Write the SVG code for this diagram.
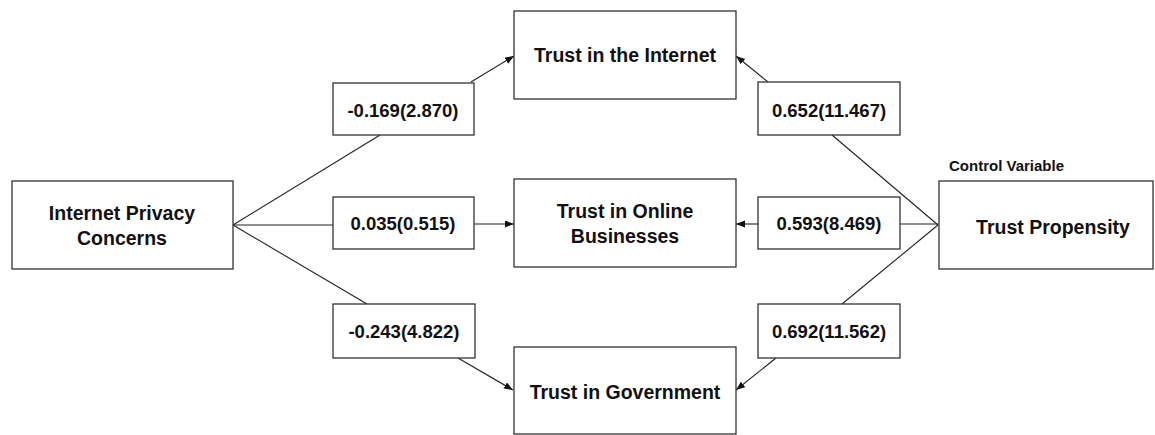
<svg xmlns="http://www.w3.org/2000/svg" width="1155" height="435" viewBox="0 0 1155 435">
<style>
.box{fill:#fff;stroke:#333;stroke-width:1.3}
.node{font-family:"Liberation Sans",Arial,sans-serif;font-weight:bold;font-size:19.5px;fill:#111;text-anchor:middle}
.lbl{font-family:"Liberation Sans",Arial,sans-serif;font-weight:bold;font-size:18.5px;fill:#111;text-anchor:middle}
.cv{font-family:"Liberation Sans",Arial,sans-serif;font-weight:bold;font-size:15px;fill:#111}
.ln{stroke:#222;stroke-width:1.1;fill:none}
</style>
<defs>
<marker id="ah" markerUnits="userSpaceOnUse" markerWidth="10" markerHeight="8" refX="9" refY="3.5" orient="auto">
<path d="M0,0 L9,3.5 L0,7 z" fill="#111"/>
</marker>
</defs>
<rect width="1155" height="435" fill="#fff"/>
<g id="connectors">
<line class="ln" x1="233" y1="225" x2="380" y2="135"/>
<line class="ln" x1="471" y1="82" x2="514" y2="56" marker-end="url(#ah)"/>
<line class="ln" x1="233" y1="225" x2="333" y2="225"/>
<line class="ln" x1="474" y1="224" x2="514" y2="224" marker-end="url(#ah)"/>
<line class="ln" x1="233" y1="225" x2="367" y2="304"/>
<line class="ln" x1="458" y1="358" x2="513" y2="390" marker-end="url(#ah)"/>
<line class="ln" x1="938" y1="225" x2="832" y2="135"/>
<line class="ln" x1="768" y1="82" x2="736" y2="56" marker-end="url(#ah)"/>
<line class="ln" x1="938" y1="224" x2="900" y2="224"/>
<line class="ln" x1="758" y1="224" x2="736" y2="224" marker-end="url(#ah)"/>
<line class="ln" x1="938" y1="225" x2="842" y2="304"/>
<line class="ln" x1="776" y1="358" x2="736" y2="390" marker-end="url(#ah)"/>
</g>
<g id="ipc">
<rect class="box" x="12" y="181" width="221" height="88"/>
<text class="node" x="122" y="220">Internet Privacy</text>
<text class="node" x="122" y="245">Concerns</text>
</g>
<g id="tint">
<rect class="box" x="514" y="11" width="222" height="88"/>
<text class="node" x="625" y="62">Trust in the Internet</text>
</g>
<g id="tonl">
<rect class="box" x="514" y="179" width="222" height="88"/>
<text class="node" x="625" y="218">Trust in Online</text>
<text class="node" x="625" y="243">Businesses</text>
</g>
<g id="tgov">
<rect class="box" x="514" y="347" width="222" height="87"/>
<text class="node" x="625" y="399">Trust in Government</text>
</g>
<g id="tprop">
<rect class="box" x="939" y="181" width="214" height="88"/>
<text class="node" x="1053" y="234">Trust Propensity</text>
<text class="cv" x="949" y="171">Control Variable</text>
</g>
<g id="l1">
<rect class="box" x="333" y="83" width="141" height="52"/>
<text class="lbl" x="403" y="117">-0.169(2.870)</text>
</g>
<g id="l2">
<rect class="box" x="333" y="197" width="141" height="52"/>
<text class="lbl" x="403" y="230">0.035(0.515)</text>
</g>
<g id="l3">
<rect class="box" x="333" y="304" width="142" height="54"/>
<text class="lbl" x="404" y="338">-0.243(4.822)</text>
</g>
<g id="r1">
<rect class="box" x="758" y="82" width="142" height="53"/>
<text class="lbl" x="829" y="117">0.652(11.467)</text>
</g>
<g id="r2">
<rect class="box" x="758" y="197" width="142" height="52"/>
<text class="lbl" x="829" y="230">0.593(8.469)</text>
</g>
<g id="r3">
<rect class="box" x="758" y="304" width="142" height="54"/>
<text class="lbl" x="829" y="338">0.692(11.562)</text>
</g>
</svg>
